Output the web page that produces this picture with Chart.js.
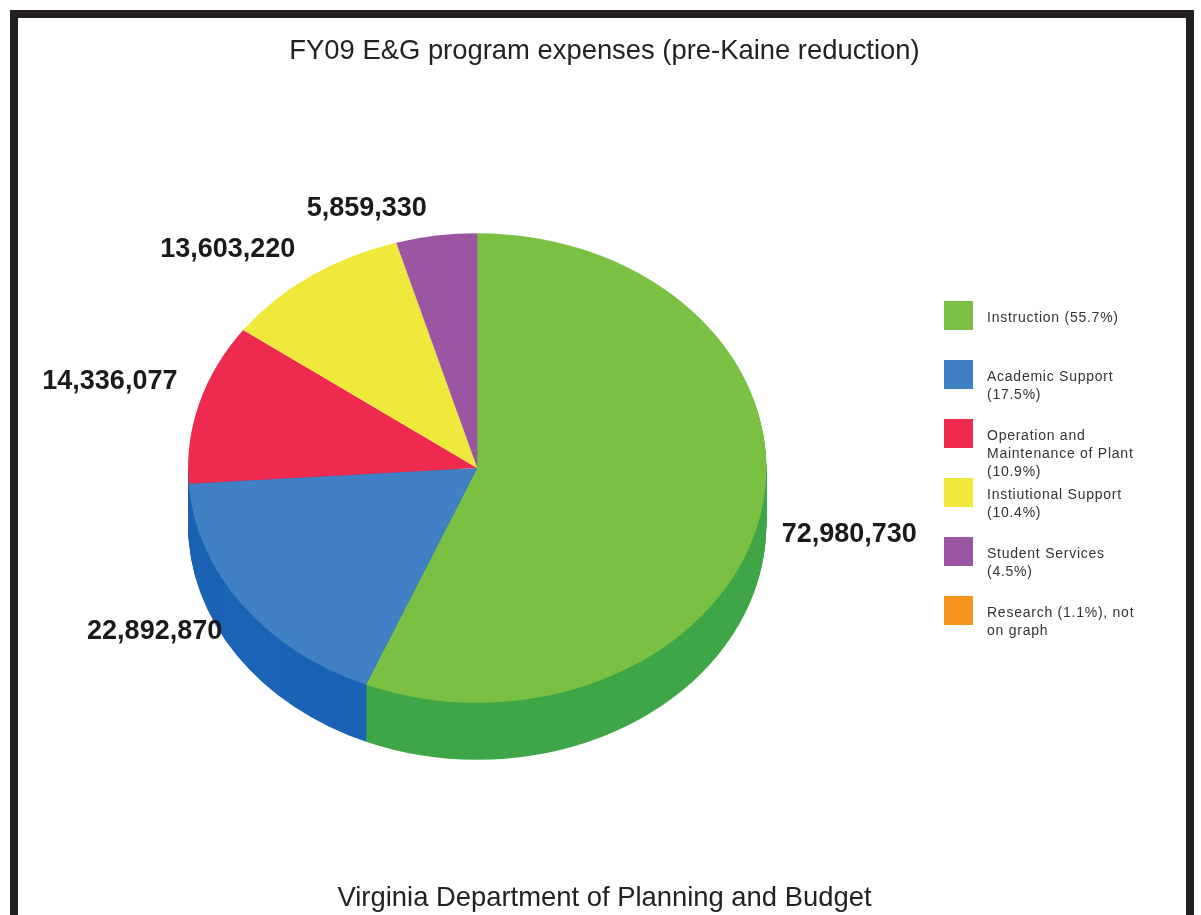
<!DOCTYPE html>
<html>
<head>
<meta charset="utf-8">
<title>FY09 E&amp;G program expenses</title>
<script src="https://cdn.jsdelivr.net/npm/chart.js@4"></script>
<style>
    html, body { margin: 0; padding: 0; background: #fff; overflow: hidden; }
    #frame { position: absolute; left: 10px; top: 10px; width: 1168px; height: 1000px; border: 8px solid #231f20; }
    #wrap { position: absolute; left: 8px; top: 0; width: 1193px; height: 915px; }
</style>
</head>
<body>
<div id="frame"></div>
<div id="wrap"><canvas id="pie" width="1193" height="915"></canvas></div>
<script>
var categories = ["Instruction", "Academic Support", "Operation and Maintenance of Plant", "Instiutional Support", "Student Services"];
var expenses = [72980730, 22892870, 14336077, 13603220, 5859330];
var sliceColors = ["#7ac143", "#4080c4", "#ee2a4e", "#eee93a", "#9c55a3"];
// only the two front slices show a side wall
var sideColors = ["#3fa648", "#1b63b5"];

var legendLines = [
    ["Instruction (55.7%)"],
    ["Academic Support", "(17.5%)"],
    ["Operation and", "Maintenance of Plant", "(10.9%)"],
    ["Instiutional Support", "(10.4%)"],
    ["Student Services", "(4.5%)"],
    ["Research (1.1%), not", "on graph"]
];
var legendColors = ["#7ac143", "#4080c4", "#ee2a4e", "#eee93a", "#9c55a3", "#f7941e"];

// value labels sit this far from the rim point at the middle of each slice
var labelOffsets = [[88.5, 21], [-87.5, 27], [-89.5, -21], [-83, -26], [-69.5, -27]];

var squash = 0.812;   // flattens the circle into the tilted disc
var depth = 57;       // thickness of the disc in px
var shiftX = -127.3;  // pie sits left of the title centre

function tilt(ctx, el, down) {
    ctx.translate(shiftX, el.y + down);
    ctx.scale(1, squash);
    ctx.translate(0, -el.y);
}

var discPlugin = {
    id: "disc",
    beforeDatasetsDraw: function (chart) {
        var ctx = chart.ctx;
        var arcs = chart.getDatasetMeta(0).data;

        // side wall: stack darker copies from the bottom up
        for (var d = depth; d > 0; d--) {
            for (let i = 0; i < sideColors.length; i++) {
                var el = arcs[i];
                // last front slice runs on to the left edge of the disc
                var end = i == sideColors.length - 1 ? Math.PI : el.endAngle;
                ctx.save();
                tilt(ctx, el, d);
                ctx.beginPath();
                ctx.moveTo(el.x, el.y);
                ctx.arc(el.x, el.y, el.outerRadius, el.startAngle, end);
                ctx.closePath();
                ctx.fillStyle = sideColors[i];
                ctx.fill();
                ctx.restore();
            }
        }

        ctx.save();
        tilt(ctx, arcs[0], 0);
    },
    afterDatasetsDraw: function (chart) {
        chart.ctx.restore();
    },
    afterDraw: function (chart) {
        var ctx = chart.ctx;
        var arcs = chart.getDatasetMeta(0).data;

        // value labels
        ctx.save();
        ctx.font = "bold 27px 'Liberation Sans'";
        ctx.fillStyle = "#1a1a1a";
        ctx.textAlign = "center";
        ctx.textBaseline = "middle";
        for (let i = 0; i < arcs.length; i++) {
            var el = arcs[i];
            var mid = (el.startAngle + el.endAngle) / 2;
            var x = el.x + shiftX + el.outerRadius * Math.cos(mid) + labelOffsets[i][0];
            var y = el.y + el.outerRadius * squash * Math.sin(mid) + labelOffsets[i][1];
            ctx.fillText(expenses[i].toLocaleString("en-US"), x, y);
        }
        ctx.restore();

        // legend, with wrapped lines the built-in one can't do
        ctx.save();
        ctx.font = "14px 'Liberation Sans'";
        ctx.letterSpacing = "0.75px";
        ctx.textBaseline = "middle";
        for (let i = 0; i < legendLines.length; i++) {
            var top = 301 + i * 59;
            ctx.fillStyle = legendColors[i];
            ctx.fillRect(936, top, 29, 29);
            ctx.fillStyle = "#333";
            for (let j = 0; j < legendLines[i].length; j++) {
                ctx.fillText(legendLines[i][j], 979, top + 17 + j * 18);
            }
        }
        ctx.restore();
    }
};

new Chart(document.getElementById("pie"), {
    type: "pie",
    data: {
        labels: categories,
        datasets: [{
            data: expenses,
            backgroundColor: sliceColors,
            borderWidth: 0,
            clip: false
        }]
    },
    options: {
        responsive: false,
        animation: false,
        events: [],
        plugins: {
            legend: { display: false },
            tooltip: { enabled: false },
            title: {
                display: true,
                text: "FY09 E&G program expenses (pre-Kaine reduction)",
                color: "#222",
                font: { family: "'Liberation Sans'", size: 27.4, weight: "normal" },
                padding: { top: 35.5, bottom: 110.5 }
            },
            subtitle: {
                display: true,
                position: "bottom",
                text: "Virginia Department of Planning and Budget",
                color: "#222",
                font: { family: "'Liberation Sans'", size: 27.4, weight: "normal" },
                padding: { top: 124.5, bottom: 0.5 }
            }
        }
    },
    plugins: [discPlugin]
});
</script>
</body>
</html>
